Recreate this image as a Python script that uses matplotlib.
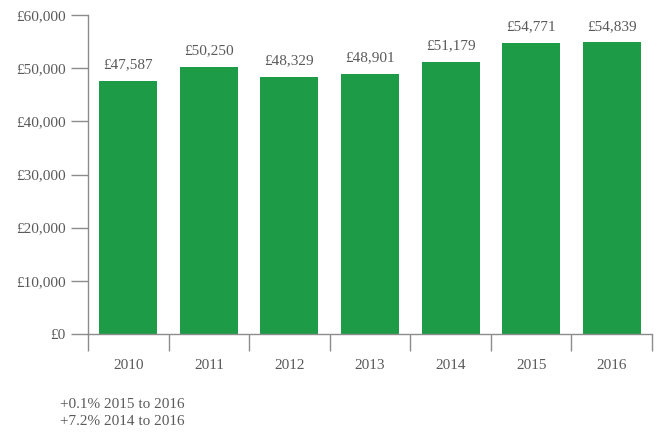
import matplotlib
matplotlib.use("Agg")
from matplotlib import pyplot as plt
import numpy as np

# average earnings by year
years = ["2010", "2011", "2012", "2013", "2014", "2015", "2016"]
values = [47587, 50250, 48329, 48901, 51179, 54771, 54839]
yticks = [0, 10000, 20000, 30000, 40000, 50000, 60000]
notes = ["+0.1% 2015 to 2016", "+7.2% 2014 to 2016"]

green = "#1e9b46"
grey = "#5a5a5a"
axis_grey = "#8c8c8c"

plt.rcParams["font.family"] = ["Liberation Serif", "DejaVu Serif"]

fig = plt.figure(figsize=(6.59, 4.32), dpi=100)
ax = fig.add_axes([88 / 659, 98 / 432, 564 / 659, 319 / 432])

x = np.arange(len(years))
ax.bar(x, values, width=0.72, color=green)

for xi, v in zip(x, values):
    ax.annotate("£{:,}".format(v), (xi, v), xytext=(0, 7), textcoords="offset points",
                ha="center", va="bottom", fontsize=11, color=grey)

ax.set_xlim(-0.5, len(years) - 0.5)
ax.set_ylim(0, 60000)
ax.set_yticks(yticks)
ax.set_yticklabels(["£{:,}".format(t) for t in yticks], fontsize=11, color=grey)
ax.set_xticks(x)
ax.set_xticklabels(years, fontsize=11, color=grey)
ax.set_xticks(np.arange(-0.5, len(years)), minor=True)

ax.tick_params(axis="y", direction="out", length=12, width=1, color=axis_grey, pad=4)
ax.tick_params(axis="x", which="major", length=0, pad=18)
ax.tick_params(axis="x", which="minor", direction="out", length=12, width=1, color=axis_grey)

for s in ["top", "right"]:
    ax.spines[s].set_visible(False)
for s in ["left", "bottom"]:
    ax.spines[s].set_color(axis_grey)
    ax.spines[s].set_linewidth(1)

for i, n in enumerate(notes):
    fig.text(60 / 659, 1 - (404 + i * 17.5) / 432, n, fontsize=11, color=grey, va="center")

fig.savefig("out.png", dpi=100)
